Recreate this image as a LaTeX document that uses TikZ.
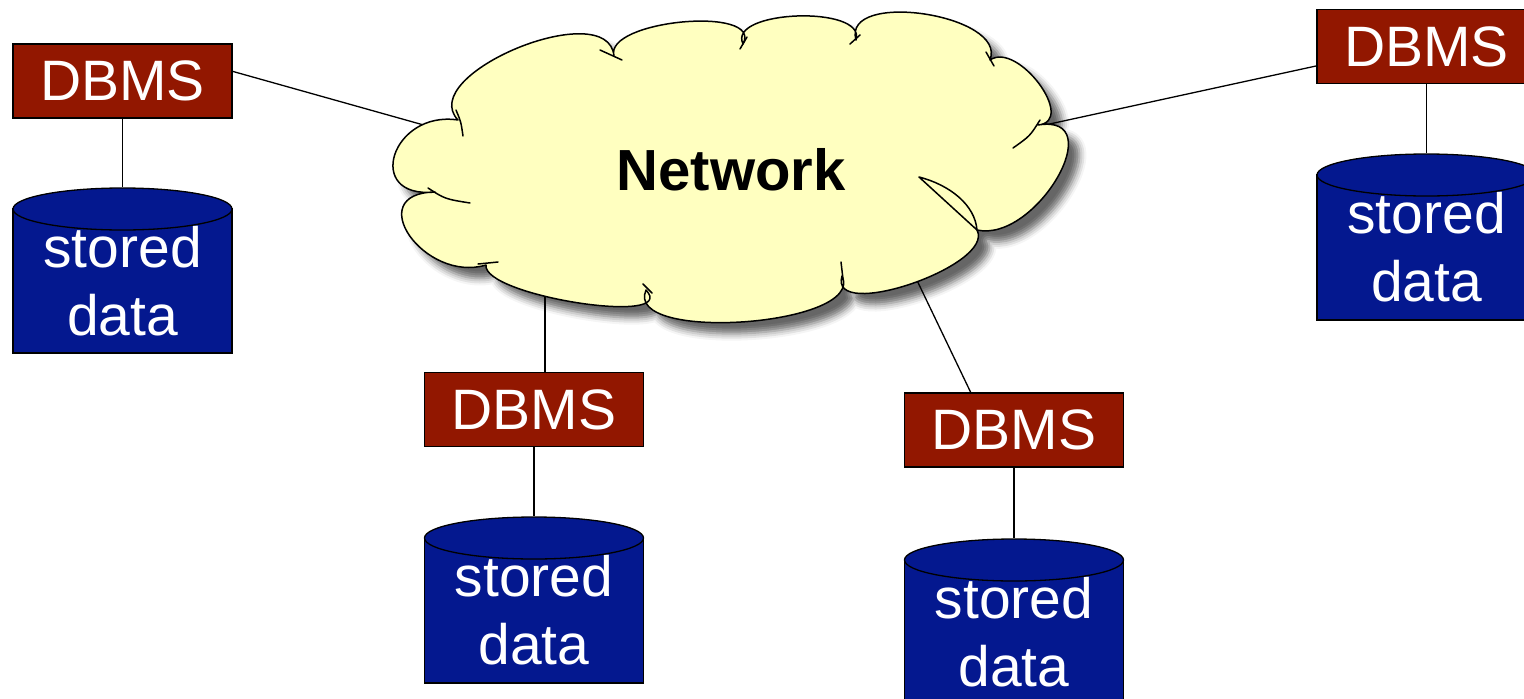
\documentclass[tikz,border=0pt]{standalone}
\usepackage{fontspec}
\setmainfont{Liberation Sans}
\usetikzlibrary{shapes.geometric,calc,shadows.blur}
\definecolor{dbred}{HTML}{921700}
\definecolor{dbblue}{HTML}{04188F}
\definecolor{cloudy}{HTML}{FFFFC0}
\begin{document}
\begin{tikzpicture}[x=1pt,y=-1pt,
  dbms/.style={draw=black,line width=1.3pt,fill=dbred,text=white,minimum width=219pt,minimum height=74pt,inner sep=0pt,font=\fontsize{57}{68}\selectfont},
  cylbody/.style={draw=black,line width=1.3pt,fill=dbblue,text=white,minimum width=219pt,inner sep=0pt,align=center,font=\fontsize{57}{68}\selectfont},
  cyltop/.style={ellipse,draw=black,line width=1.3pt,fill=dbblue,minimum width=219pt,minimum height=42pt,inner sep=0pt},
  link/.style={draw=black,line width=1.3pt},
  cloudline/.style={draw=black,line width=1.5pt,line join=round,line cap=round},
  blg/.style n args={3}{insert path={.. controls ($0.453*(#1)+1.333*(#2)-0.787*(#3)$) and ($0.453*(#3)+1.333*(#2)-0.787*(#1)$) .. (#3)}}
]
\useasboundingbox (0,0) rectangle (1524,699);

% cloud outline points
\coordinate (c1) at (458,120);  \coordinate (m1) at (518,48);
\coordinate (c2) at (614,56);   \coordinate (m2) at (683,22);
\coordinate (c3) at (743,44);   \coordinate (m3) at (798,16);
\coordinate (c4) at (856,40);   \coordinate (m4) at (925,14);
\coordinate (c5) at (990,60);   \coordinate (m5) at (1040,84);
\coordinate (c6) at (1038,125); \coordinate (m6) at (1058,178);
\coordinate (c7) at (977,230);  \coordinate (m7) at (912,284);
\coordinate (c8) at (842,276);  \coordinate (m8) at (745,322);
\coordinate (c9) at (646,290);  \coordinate (m9) at (578,303);
\coordinate (c10) at (486,265); \coordinate (m10) at (410,236);
\coordinate (c11) at (435,192); \coordinate (m11) at (395,155);

% link ends inside the cloud
\coordinate (n1) at (445,131);
\coordinate (n2) at (1045,125);
\coordinate (n3) at (545,290);
\coordinate (n4) at (912,270);

% DBMS boxes
\node[dbms] (d1) at (122.5,81) {DBMS};
\node[dbms] (d2) at (1426.5,46.5) {DBMS};
\node[dbms] (d3) at (534,409.5) {DBMS};
\node[dbms] (d4) at (1014,430) {DBMS};

% stored data cylinders
\node[cylbody,minimum height=144pt] (s1) at (122.5,281) {stored\\data};
\node[cyltop] (t1) at (122.5,209) {};
\node[cylbody,minimum height=145pt] (s2) at (1426.5,247.5) {stored\\data};
\node[cyltop] (t2) at (1426.5,175) {};
\node[cylbody,minimum height=145pt] (s3) at (534,610.5) {stored\\data};
\node[cyltop] (t3) at (534,538) {};
\node[cylbody,minimum height=145pt] (s4) at (1014,632.5) {stored\\data};
\node[cyltop] (t4) at (1014,560) {};

% connectors
\draw[link] (d1.south) -- (t1.north);
\draw[link] (d2.south) -- (t2.north);
\draw[link] (d3.south) -- (t3.north);
\draw[link] (d4.south) -- (t4.north);
\draw[link] (d1.5) -- (n1);
\draw[link] (d2.190) -- (n2);
\draw[link] (n3) -- (n3 |- d3.north);
\draw[link] (n4) -- (d4.139);

% cloud
\path[cloudline,fill=cloudy,blur shadow={shadow xshift=11pt,shadow yshift=-11pt,shadow blur radius=7pt,shadow opacity=60}]
  (c1) [blg={c1}{m1}{c2}] [blg={c2}{m2}{c3}] [blg={c3}{m3}{c4}] [blg={c4}{m4}{c5}]
  [blg={c5}{m5}{c6}] [blg={c6}{m6}{c7}] [blg={c7}{m7}{c8}] [blg={c8}{m8}{c9}]
  [blg={c9}{m9}{c10}] [blg={c10}{m10}{c11}] [blg={c11}{m11}{c1}] -- cycle;

% small inner strokes of the cloud
\draw[cloudline] (456,110) .. controls (461,122) .. (463,136);
\draw[cloudline] (428,188) .. controls (445,199) .. (470,203);
\draw[cloudline] (478,264) -- (498,262);
\draw[cloudline] (643,284) -- (652,293);
\draw[cloudline] (841,262) -- (843,279);
\draw[cloudline] (1040,120) .. controls (1030,136) .. (1013,148);
\draw[cloudline] (986,52) -- (994,66);
\draw[cloudline] (860,35) -- (850,44);
\draw[cloudline] (747,37) -- (740,49);
\draw[cloudline] (600,50) -- (622,60);
\filldraw[cloudline,fill=cloudy] (919,177) -- (977,230) .. controls (975,205) and (950,185) .. cycle;

\node[font=\fontsize{58}{68}\selectfont\bfseries] (net) at (731,170) {Network};
\end{tikzpicture}
\end{document}
